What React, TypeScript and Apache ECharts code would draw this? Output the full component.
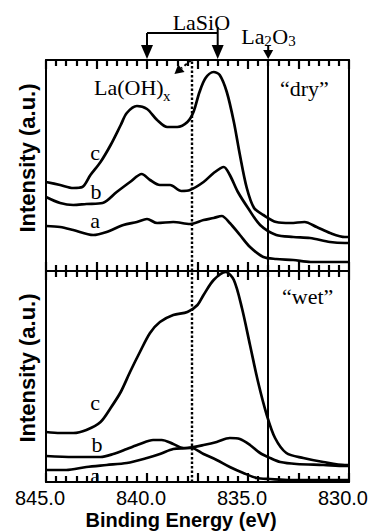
import React, { useEffect, useRef } from "react";
import * as echarts from "echarts";

// ---- data (binding energy eV / intensity a.u.) ----
const dryCE = [845, 844.3, 843.65, 843.2, 842.8, 842.3, 841.8, 841.3, 841.0, 840.5, 840.0, 839.5, 839.0, 838.5, 838.0, 837.7, 837.4, 837.1, 836.7, 836.4, 836.05, 835.7, 835.4, 835.06, 834.7, 834.24, 833.6, 832.9, 832.2, 831.6, 830.94, 830.2, 830];
const dryCV = [89, 86, 83, 84, 96, 109, 126, 146, 158, 165, 162, 151, 144, 144, 149, 159, 179, 193, 199, 196, 179, 149, 116, 83, 63, 56, 49, 48, 49, 44, 38, 34, 34];
const dryBE = [845, 844.3, 843.65, 843.0, 842.2, 841.5, 840.84, 840.26, 839.85, 839.36, 838.86, 838.3, 837.87, 837.2, 836.7, 836.2, 835.9, 835.5, 835.0, 834.4, 833.6, 832.76, 831.93, 830.94, 830.2, 830];
const dryBV = [74, 68, 66, 67, 68, 79, 89, 97, 91, 86, 86, 80, 81, 89, 98, 104, 96, 79, 63, 46, 36, 34, 33, 29, 28, 28];
const dryAE = [845, 844.3, 843.65, 842.66, 842.0, 841.17, 840.5, 840.0, 839.5, 838.7, 837.87, 837.2, 836.7, 836.3, 835.9, 835.4, 834.9, 834.24, 833.6, 832.76, 831.9, 830.94, 830.2, 830];
const dryAV = [45, 44, 41, 36, 39, 46, 49, 52, 48, 49, 47, 51, 53, 55, 48, 36, 24, 14, 12, 11, 9, 9, 9, 9];

const wetCE = [845, 844.3, 843.65, 843.0, 842.3, 841.8, 841.3, 840.84, 840.35, 839.85, 839.36, 838.7, 838.0, 837.5, 837.2, 836.7, 836.1, 835.7, 835.3, 834.9, 834.5, 834.07, 833.66, 833.1, 832.26, 831.27, 830.2, 830];
const wetCV = [50, 49, 49, 52, 60, 74, 90, 110, 130, 149, 160, 167, 170, 177, 187, 202, 210, 202, 174, 137, 100, 67, 44, 29, 24, 20, 17, 17];
const wetBE = [845, 843.65, 842.3, 841.67, 841.0, 840.35, 839.7, 839.27, 838.7, 838.2, 837.8, 837.2, 836.55, 835.9, 835.23, 834.57, 833.9, 832.9, 831.9, 830];
const wetBV = [26, 25, 25, 28, 33, 38, 42, 42, 38, 34, 34, 28, 22, 15, 9, 4, 3, 2, 2, 2];
const wetAE = [845, 844.0, 843.0, 842.0, 841.0, 840.0, 839.36, 838.7, 838.0, 837.2, 836.55, 835.9, 835.4, 834.9, 834.4, 833.9, 833.4, 832.6, 831.27, 830.2, 830];
const wetAV = [12, 12, 15, 17, 19, 24, 28, 33, 34, 37, 40, 44, 43, 37, 29, 24, 20, 18, 17, 16, 16];

const xMin = 830;
const xMax = 845;
const xInterval = 2.5;
const yMax = 211;

const laOHLine = 837.8; // dotted reference
const la2o3Line = 834.0; // solid reference
const laSiOPeaks = [840.0, 836.5];

const SERIF = "'Liberation Serif', 'Times New Roman', serif";
const SANS = "'Liberation Sans', Arial, sans-serif";

function pairs(e: number[], v: number[]) {
  return e.map((x, i) => [x, v[i]]);
}

export default function App() {
  const ref = useRef<HTMLDivElement>(null);

  useEffect(() => {
    const chart = echarts.init(ref.current!, null, { renderer: "svg" });

    const gridTop = [60, 271];
    const gridH = 211;

    const xAx = (gridIndex: number, position: string, showLabel: boolean) => ({
      type: "value",
      gridIndex,
      position,
      min: xMin,
      max: xMax,
      interval: xInterval,
      inverse: true,
      axisLine: { show: true, onZero: false, lineStyle: { color: "#000", width: 2 } },
      axisTick: { show: true, inside: true, length: 9, lineStyle: { color: "#000", width: 2.2 } },
      minorTick: { show: true, splitNumber: 5, length: 6, lineStyle: { color: "#000", width: 2.2 } },
      splitLine: { show: false },
      axisLabel: {
        show: showLabel,
        color: "#000",
        fontFamily: SANS,
        fontSize: 20,
        margin: 6,
        padding: [0, 12, 0, 0],
        formatter: (v: number) => (Math.abs(v % 5) < 1e-6 ? v.toFixed(1) : ""),
      },
    });

    const yAx = (gridIndex: number, position: string) => ({
      type: "value",
      gridIndex,
      position,
      min: 0,
      max: yMax,
      axisLine: { show: true, onZero: false, lineStyle: { color: "#000", width: 2 } },
      axisTick: { show: false },
      axisLabel: { show: false },
      splitLine: { show: false },
    });

    const lineSeries = (data: number[][], xi: number, yi: number, withMarks: boolean) => ({
      type: "line",
      xAxisIndex: xi,
      yAxisIndex: yi,
      data,
      showSymbol: false,
      smooth: 0.3,
      lineStyle: { color: "#000", width: 2.7 },
      z: 3,
      markLine: withMarks
        ? {
            silent: true,
            symbol: "none",
            label: { show: false },
            data: [
              { xAxis: laOHLine, lineStyle: { type: [2.5, 2], width: 2.4, color: "#000" } },
              { xAxis: la2o3Line, lineStyle: { type: "solid", width: 2, color: "#000" } },
            ],
          }
        : undefined,
    });

    chart.setOption({
      animation: false,
      grid: [
        { left: 46, right: 22, top: gridTop[0], height: gridH },
        { left: 46, right: 22, top: gridTop[1], height: gridH },
      ],
      xAxis: [xAx(0, "top", false), xAx(0, "bottom", false), xAx(1, "top", false), xAx(1, "bottom", true)],
      yAxis: [yAx(0, "left"), yAx(0, "right"), yAx(1, "left"), yAx(1, "right")],
      series: [
        lineSeries(pairs(dryCE, dryCV), 1, 0, true),
        lineSeries(pairs(dryBE, dryBV), 1, 0, false),
        lineSeries(pairs(dryAE, dryAV), 1, 0, false),
        lineSeries(pairs(wetCE, wetCV), 3, 2, true),
        lineSeries(pairs(wetBE, wetBV), 3, 2, false),
        lineSeries(pairs(wetAE, wetAV), 3, 2, false),
      ],
    });

    const px = (e: number) => chart.convertToPixel({ xAxisIndex: 0 }, e) as number;
    const xL = px(laSiOPeaks[0]);
    const xR = px(laSiOPeaks[1]);
    const xO = px(la2o3Line);
    const xD = px(laOHLine);
    const t = gridTop[0];

    const stroke = { stroke: "#000", lineWidth: 2 };
    const head = (x: number, baseY: number, w: number) => ({
      type: "polygon",
      shape: { points: [[x - w, baseY], [x + w, baseY], [x, t - 1]] },
      style: { fill: "#000" },
    });
    const txt = (text: string, x: number, y: number, size: number, extra: any = {}) => ({
      type: "text",
      x,
      y,
      style: {
        text,
        fill: "#000",
        font: `${size}px ${SERIF}`,
        align: "left",
        verticalAlign: "middle",
        ...extra,
      },
    });

    const tipX = xD - 17;
    const tipY = t + 14;
    const ux = -0.77, uy = 0.64;
    const bx = tipX - 9 * ux, by = tipY - 9 * uy;
    const nx = 0.64, ny = 0.77;

    chart.setOption({
      graphic: [
        { type: "line", shape: { x1: xL, y1: 33, x2: xR, y2: 33 }, style: stroke },
        { type: "line", shape: { x1: xL, y1: 33, x2: xL, y2: 46 }, style: stroke },
        { type: "line", shape: { x1: xR, y1: 27, x2: xR, y2: 46 }, style: stroke },
        head(xL, 45, 6),
        head(xR, 45, 6),
        txt("LaSiO", (xL + xR) / 2 + 19, 22, 22, { align: "center" }),
        { type: "line", shape: { x1: xO, y1: 45, x2: xO, y2: 51 }, style: stroke },
        head(xO, 50, 5),
        txt("La", xO - 27, 36, 22),
        txt("2", xO - 4, 41, 15),
        txt("O", xO + 4, 36, 22),
        txt("3", xO + 20, 41, 15),
        {
          type: "line",
          shape: { x1: xD, y1: t, x2: bx, y2: by },
          style: { stroke: "#000", lineWidth: 2, lineDash: [3, 3] },
        },
        {
          type: "polygon",
          shape: { points: [[tipX, tipY], [bx + 5 * nx, by + 5 * ny], [bx - 5 * nx, by - 5 * ny]] },
          style: { fill: "#000" },
        },
        txt("La(OH)", 94, 87, 22),
        txt("x", 163, 96, 15),
        txt("\u201Cdry\u201D", 280, 88, 22),
        txt("\u201Cwet\u201D", 282, 296, 22),
        txt("c", 95, 152, 22, { align: "center" }),
        txt("b", 96, 191, 22, { align: "center" }),
        txt("a", 95, 220, 22, { align: "center" }),
        txt("c", 95, 402, 22, { align: "center" }),
        txt("b", 97, 444, 22, { align: "center" }),
        txt("a", 95, 475, 22, { align: "center" }),
        {
          type: "text",
          x: 27,
          y: 158,
          rotation: Math.PI / 2,
          style: { text: "Intensity (a.u.)", fill: "#000", font: `bold 22px ${SANS}`, align: "center", verticalAlign: "middle" },
        },
        {
          type: "text",
          x: 27,
          y: 368,
          rotation: Math.PI / 2,
          style: { text: "Intensity (a.u.)", fill: "#000", font: `bold 22px ${SANS}`, align: "center", verticalAlign: "middle" },
        },
        {
          type: "text",
          x: 181,
          y: 520,
          style: { text: "Binding Energy (eV)", fill: "#000", font: `bold 20px ${SANS}`, align: "center", verticalAlign: "middle" },
        },
      ],
    });

    return () => chart.dispose();
  }, []);

  return (
    <div
      ref={ref}
      style={{ position: "fixed", left: 0, top: 0, width: 371, height: 531, background: "#fff" }}
    />
  );
}
